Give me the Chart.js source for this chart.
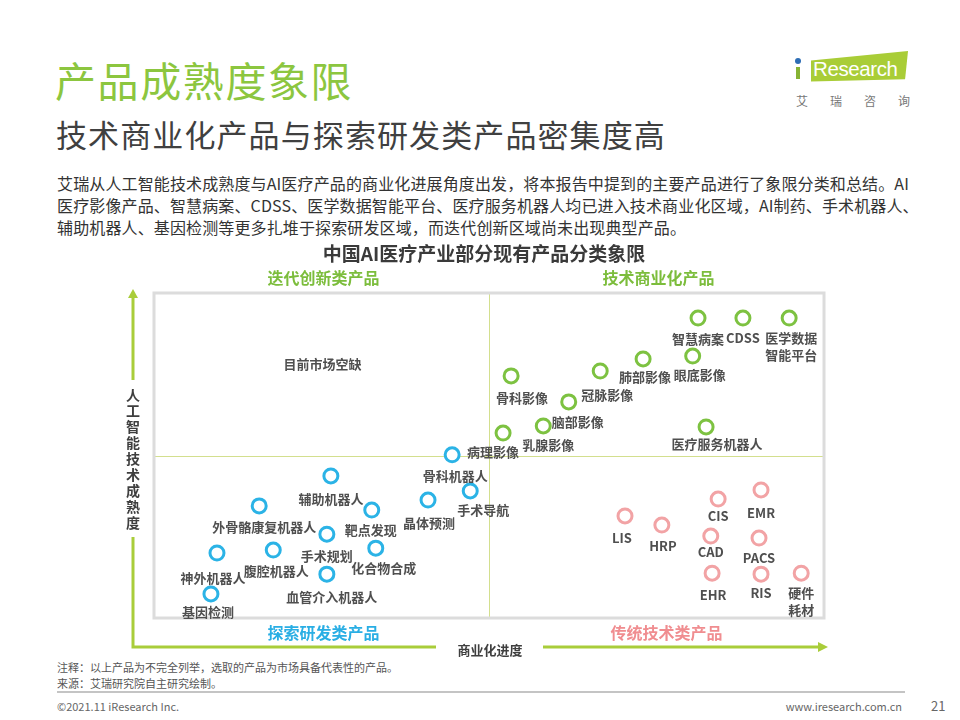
<!DOCTYPE html>
<html>
<head>
<meta charset="utf-8">
<script src="https://cdn.jsdelivr.net/npm/chart.js@4.4.0/dist/chart.umd.min.js"></script>
<style>
html,body{margin:0;padding:0;background:#fff;}
#page{position:relative;width:960px;height:720px;overflow:hidden;font-family:"Noto Sans CJK SC","Noto Sans",sans-serif;}
.t{position:absolute;white-space:nowrap;}
#c{position:absolute;left:0;top:0;z-index:2;}
</style>
</head>
<body>
<div id="page">
  <div class="t" style="left:55px;top:59px;font-size:41px;line-height:41px;color:#8cc63f;letter-spacing:1.6px;">产品成熟度象限</div>
  <div class="t" style="left:56px;top:118px;font-size:31px;line-height:31px;color:#404040;letter-spacing:1.1px;">技术商业化产品与探索研发类产品密集度高</div>
  <div class="t" style="left:57px;top:172px;font-size:16px;line-height:22px;color:#333;letter-spacing:0.13px;">
    艾瑞从人工智能技术成熟度与AI医疗产品的商业化进展角度出发，将本报告中提到的主要产品进行了象限分类和总结。AI<br>
    医疗影像产品、智慧病案、CDSS、医学数据智能平台、医疗服务机器人均已进入技术商业化区域，AI制药、手术机器人、<br>
    辅助机器人、基因检测等更多扎堆于探索研发区域，而迭代创新区域尚未出现典型产品。
  </div>

  <!-- logo -->
  <div style="position:absolute;left:811px;top:51px;width:98px;height:32px;background:#a9cd37;clip-path:polygon(0 30%,99% 0,96% 88%,0 95%);"></div>
  <div style="position:absolute;left:795px;top:58px;width:6px;height:6px;border-radius:3px;background:#2d6db5;"></div>
  <div style="position:absolute;left:796px;top:67px;width:4px;height:12px;background:#86b334;"></div>
  <div class="t" style="left:813px;top:57px;font-family:'Liberation Sans',Arial,sans-serif;font-size:20.5px;line-height:24px;color:#fff;letter-spacing:-0.4px;">Research</div>
  <div class="t" style="left:796px;top:93px;font-size:12px;line-height:16px;color:#777;letter-spacing:22px;">艾瑞咨询</div>

  <!-- footer -->
  <div class="t" style="left:57px;top:659px;font-size:11px;line-height:16px;color:#555;">注释：以上产品为不完全列举，选取的产品为市场具备代表性的产品。<br>来源：艾瑞研究院自主研究绘制。</div>
  <div style="position:absolute;left:57px;top:691px;width:848px;height:2px;background:#c4c4c4;"></div>
  <div class="t" style="left:57px;top:698px;font-size:11px;line-height:16px;color:#666;">©2021.11 iResearch Inc.</div>
  <div class="t" style="right:58px;top:698px;font-size:11px;line-height:16px;color:#666;">www.iresearch.com.cn</div>
  <div class="t" style="left:931px;top:697px;font-size:13px;line-height:18px;color:#666;">21</div>

  <canvas id="c" width="960" height="720"></canvas>
</div>

<script>
// ---------------- data ----------------
const chartTitle = '中国AI医疗产业部分现有产品分类象限';
const quadrantNames = ['迭代创新类产品', '技术商业化产品', '探索研发类产品', '传统技术类产品'];
const xAxisTitle = '商业化进度';
const yAxisTitle = '人工智能技术成熟度';
const emptyNote = '目前市场空缺';
const X_SPLIT = 50;
const Y_SPLIT = 50;

const greenNames = ['智慧病案', 'CDSS', '医学数据\n智能平台', '眼底影像', '肺部影像', '冠脉影像', '骨科影像', '脑部影像', '乳腺影像', '病理影像', '医疗服务机器人'];
const greenX = [81.2, 87.9, 94.8, 80.4, 73.0, 66.6, 53.3, 61.9, 58.1, 52.1, 82.4];
const greenY = [92.3, 92.3, 92.3, 80.6, 79.7, 76.0, 74.5, 66.5, 59.1, 56.9, 58.8];

const blueNames = ['骨科机器人', '手术导航', '晶体预测', '辅助机器人', '靶点发现', '外骨骼康复机器人', '手术规划', '化合物合成', '腹腔机器人', '神外机器人', '血管介入机器人', '基因检测'];
const blueX = [44.5, 47.2, 40.9, 26.4, 32.5, 15.7, 25.8, 33.1, 17.8, 9.4, 25.8, 8.5];
const blueY = [50.2, 39.1, 36.3, 43.7, 33.2, 34.5, 25.8, 21.5, 20.9, 20.0, 13.5, 7.4];

const pinkNames = ['LIS', 'HRP', 'CIS', 'EMR', 'CAD', 'PACS', 'EHR', 'RIS', '硬件\n耗材'];
const pinkX = [70.3, 75.8, 84.2, 90.6, 83.1, 90.3, 83.3, 90.6, 96.6];
const pinkY = [31.4, 28.6, 36.6, 39.4, 25.2, 24.6, 13.8, 13.5, 13.8];

// ---------------- styling ----------------
const LABEL_OFFSETS = {
  '智慧病案':[0,21], 'CDSS':[0,20], '医学数据\n智能平台':[2,20], '眼底影像':[7,19], '肺部影像':[2,18],
  '冠脉影像':[7,24], '骨科影像':[11,22], '脑部影像':[9,20], '乳腺影像':[5,19], '病理影像':[-10,19],
  '医疗服务机器人':[11,17],
  '骨科机器人':[3,21], '手术导航':[13,19], '晶体预测':[1,23], '辅助机器人':[0,23], '靶点发现':[-1,20],
  '外骨骼康复机器人':[5,21], '手术规划':[0,22], '化合物合成':[8,20], '腹腔机器人':[3,21], '神外机器人':[-4,25],
  '血管介入机器人':[5,23], '基因检测':[-3,18],
  'LIS':[-3,22], 'HRP':[1,21], 'CIS':[0,17], 'EMR':[0,23], 'CAD':[0,16], 'PACS':[0,20], 'EHR':[1,22],
  'RIS':[0,19], '硬件\n耗材':[0,20]
};
const FONT = '"Noto Sans CJK SC","Noto Sans",sans-serif';
const GREEN = '#7dc241', BLUE = '#2bb3e6', PINK = '#f2a3a5';
const ARROW = '#a9cd3a';
const LABEL_COLOR = '#4f4f4f';

function pts(xs, ys){ return xs.map((v,i)=>({x:v, y:ys[i]})); }

const quadPlugin = {
  id: 'quad',
  beforeDatasetsDraw(chart){
    const {ctx, chartArea:a, scales:{x, y}} = chart;
    ctx.save();
    const mx = Math.round(x.getPixelForValue(X_SPLIT)) + 0.5;
    const my = Math.round(y.getPixelForValue(Y_SPLIT)) + 0.5;
    ctx.strokeStyle = '#d3df8e'; ctx.lineWidth = 1;
    ctx.beginPath();
    ctx.moveTo(mx, a.top); ctx.lineTo(mx, a.bottom);
    ctx.moveTo(a.left, my); ctx.lineTo(a.right, my);
    ctx.stroke();
    ctx.strokeStyle = '#dcdcdc'; ctx.lineWidth = 3;
    ctx.strokeRect(a.left, a.top, a.width, a.height);

    // chart title
    ctx.fillStyle = '#3a3a3a'; ctx.textAlign = 'center'; ctx.textBaseline = 'middle';
    ctx.font = 'bold 19px ' + FONT;
    ctx.fillText(chartTitle, (a.left + a.right)/2 - 5, a.top - 39);

    // quadrant headers
    const qx1 = x.getPixelForValue(25), qx2 = x.getPixelForValue(75);
    ctx.font = 'bold 16px ' + FONT;
    ctx.fillStyle = '#7cbd3c'; ctx.fillText(quadrantNames[0], qx1 + 2, a.top - 15);
    ctx.fillStyle = '#7cbd3c'; ctx.fillText(quadrantNames[1], qx2 + 2, a.top - 15);
    ctx.fillStyle = '#29aee4'; ctx.fillText(quadrantNames[2], qx1 + 2, a.bottom + 15);
    ctx.fillStyle = '#f08d90'; ctx.fillText(quadrantNames[3], qx2 + 10, a.bottom + 15);

    // empty note
    ctx.font = 'bold 13px ' + FONT; ctx.fillStyle = LABEL_COLOR;
    ctx.fillText(emptyNote, x.getPixelForValue(25) + 1, y.getPixelForValue(78));

    // axis arrows
    const ax = a.left - 21, ay = a.bottom + 29;
    ctx.strokeStyle = ARROW; ctx.fillStyle = ARROW; ctx.lineWidth = 3;
    ctx.beginPath();
    ctx.moveTo(ax, a.top + 3); ctx.lineTo(ax, 380);
    ctx.moveTo(ax, 537); ctx.lineTo(ax, ay); ctx.lineTo(436, ay);
    ctx.moveTo(543, ay); ctx.lineTo(a.right - 4, ay);
    ctx.stroke();
    ctx.beginPath(); ctx.moveTo(ax, a.top - 4); ctx.lineTo(ax - 5, a.top + 5); ctx.lineTo(ax + 5, a.top + 5); ctx.closePath(); ctx.fill();
    ctx.beginPath(); ctx.moveTo(a.right + 4, ay); ctx.lineTo(a.right - 6, ay - 5); ctx.lineTo(a.right - 6, ay + 5); ctx.closePath(); ctx.fill();

    ctx.fillStyle = '#3f3f3f'; ctx.font = 'bold 13px ' + FONT;
    ctx.fillText(xAxisTitle, 490, ay + 3);
    ctx.font = 'bold 14px ' + FONT;
    [...yAxisTitle].forEach((ch, i) => ctx.fillText(ch, ax, 395 + i * 15.9));
    ctx.restore();
  },
  afterDatasetsDraw(chart){
    const {ctx} = chart;
    ctx.save();
    ctx.fillStyle = LABEL_COLOR; ctx.textAlign = 'center'; ctx.textBaseline = 'middle';
    ctx.font = 'bold 13px ' + FONT;
    chart.data.datasets.forEach((ds, di) => {
      const meta = chart.getDatasetMeta(di);
      meta.data.forEach((el, i) => {
        const name = ds.names[i];
        const off = LABEL_OFFSETS[name] || [0, 20];
        name.split('\n').forEach((line, li) => {
          ctx.fillText(line, el.x + off[0], el.y + off[1] + li * 17);
        });
      });
    });
    ctx.restore();
  }
};

Chart.defaults.font.family = FONT;
new Chart(document.getElementById('c'), {
  type: 'scatter',
  data: {
    datasets: [
      {label:'技术商业化产品', names: greenNames, data: pts(greenX, greenY), borderColor: GREEN, backgroundColor: '#fff'},
      {label:'探索研发类产品', names: blueNames, data: pts(blueX, blueY), borderColor: BLUE, backgroundColor: '#fff'},
      {label:'传统技术类产品', names: pinkNames, data: pts(pinkX, pinkY), borderColor: PINK, backgroundColor: '#fff'}
    ]
  },
  options: {
    responsive: false,
    devicePixelRatio: 1,
    animation: false,
    layout: {padding: {left: 154, right: 136, top: 293, bottom: 102}},
    elements: {point: {radius: 7, borderWidth: 3, hoverRadius: 7}},
    scales: {
      x: {type: 'linear', min: 0, max: 100, display: false},
      y: {type: 'linear', min: 0, max: 100, display: false}
    },
    plugins: {legend: {display: false}, tooltip: {enabled: false}}
  },
  plugins: [quadPlugin]
});
</script>
</body>
</html>
